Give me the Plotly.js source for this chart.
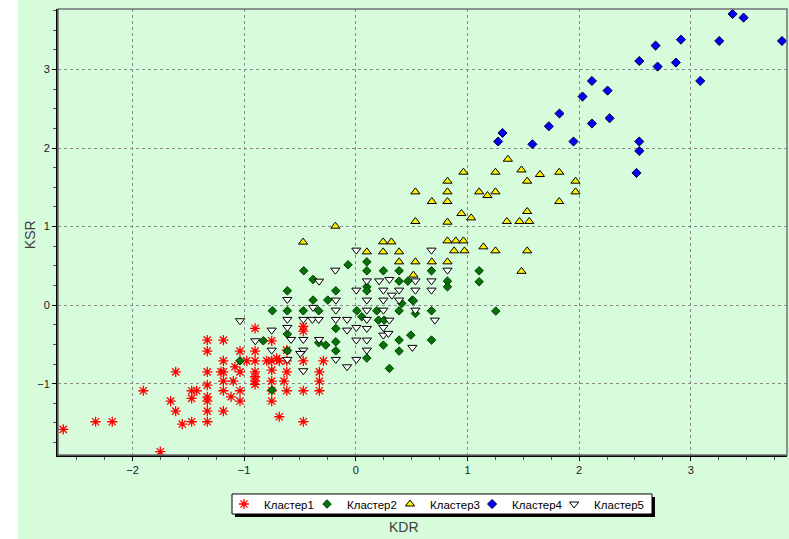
<!DOCTYPE html>
<html>
<head>
<meta charset="utf-8">
<script src="https://cdn.plot.ly/plotly-3.0.1.min.js"></script>
<style>
html,body{margin:0;padding:0;background:#ffffff;}
#chart{position:absolute;left:18px;top:0;width:771px;height:539px;}
</style>
</head>
<body>
<div id="chart"></div>
<script>
// Cluster names (legend)
const clusterNames = ["Кластер1", "Кластер2", "Кластер3", "Кластер4", "Кластер5"];

// Кластер1 (red asterisks)
const c1x = [-2.62,-2.33,-2.181,-1.903,-1.613,-1.751,-1.658,-1.613,-1.554,-1.47,-1.47,-1.47,-1.425,
  -1.33,-1.33,-1.33,-1.33,-1.33,-1.33,-1.33,-1.33,
  -1.186,-1.186,-1.186,-1.186,-1.186,-1.186,-1.207,-1.097,-1.117,-1.037,-1.082,
  -1.037,-1.037,-1.037,-0.977,
  -0.902,-0.902,-0.902,-0.902,-0.902,-0.902,-0.902,
  -0.753,-0.753,-0.753,-0.753,-0.753,-0.753,-0.797,-0.708,-0.685,-0.685,
  -0.618,-0.618,-0.618,-0.618,-0.642,
  -0.47,-0.47,-0.47,-0.47,-0.47,
  -0.326,-0.326,-0.326,-0.29];
const c1y = [-1.582,-1.485,-1.485,-1.09,-0.849,-1.866,-1.221,-1.349,-1.514,-1.485,-1.187,-1.09,-1.09,
  -0.445,-0.585,-0.849,-1.018,-1.167,-1.221,-1.349,-1.485,
  -0.445,-0.709,-0.849,-0.967,-1.09,-1.349,-0.849,-0.967,-1.167,-1.221,-0.785,
  -0.585,-0.849,-1.09,-0.709,
  -0.297,-0.585,-0.709,-0.849,-0.912,-0.967,-1.009,
  -0.454,-0.709,-0.827,-0.967,-1.09,-1.221,-0.709,-0.678,-0.709,-1.421,
  -0.573,-0.709,-0.849,-1.09,-0.967,
  -0.27,-0.33,-0.709,-1.09,-1.485,
  -0.849,-0.967,-1.09,-0.709];

// Кластер2 (green diamonds)
const c2x = [-0.466,-0.383,-0.069,-0.613,-0.383,-0.251,-0.179,-0.747,-0.613,-0.47,-0.332,0.009,0.054,
  -0.179,-0.613,-0.332,-0.269,-0.179,-0.613,-0.179,0.099,
  0.099,0.099,0.247,0.388,0.388,0.466,0.099,0.099,0.412,0.507,0.388,0.678,0.821,0.821,
  0.678,0.534,0.188,0.203,0.254,0.388,0.493,0.678,0.247,0.388,0.301,
  -0.828,-1.037,-0.75,1.105,1.105,0.516,1.254];
const c2y = [0.437,0.327,0.513,0.182,0.064,0.064,0.182,-0.072,-0.072,-0.072,-0.072,-0.072,-0.149,
  -0.297,-0.369,-0.479,-0.509,-0.467,-0.581,-0.581,-0.674,
  0.551,0.437,0.437,0.437,0.305,0.305,0.233,0.182,0.022,0.064,-0.072,0.437,0.305,0.233,
  -0.072,-0.106,-0.072,-0.191,-0.191,-0.445,-0.382,-0.445,-0.509,-0.585,-0.806,
  -0.454,-0.709,-1.081,0.437,0.297,0.055,-0.076];

// Кластер3 (yellow triangles)
const c3x = [1.362,0.964,1.251,1.484,1.649,1.822,0.821,1.535,1.968,0.534,0.821,1.105,1.179,1.251,1.968,
  0.681,0.821,1.822,0.946,1.033,1.535,0.534,0.821,1.353,1.466,1.553,
  0.821,0.896,0.964,0.881,0.973,1.143,1.251,1.535,0.534,0.681,0.821,1.484,
  0.245,0.319,0.099,0.245,0.388,0.388,0.516,-0.183,-0.472];
const c3y = [1.857,1.692,1.692,1.721,1.663,1.692,1.578,1.578,1.578,1.442,1.442,1.442,1.395,1.442,1.442,
  1.319,1.319,1.319,1.166,1.111,1.192,1.065,1.056,1.065,1.065,1.065,
  0.818,0.818,0.818,0.691,0.691,0.742,0.691,0.691,0.551,0.551,0.551,0.43,
  0.805,0.805,0.678,0.678,0.678,0.551,0.382,1.005,0.802];

// Кластер4 (blue diamonds)
const c4x = [3.375,3.473,2.685,2.912,3.255,3.817,2.539,2.703,2.867,3.085,2.115,2.255,2.031,1.824,
  1.729,2.115,2.273,1.314,1.275,1.582,1.95,2.539,2.539,2.514];
const c4y = [3.706,3.66,3.304,3.38,3.363,3.363,3.108,3.037,3.088,2.854,2.854,2.731,2.655,2.439,
  2.277,2.312,2.379,2.192,2.083,2.048,2.083,2.083,1.963,1.683];

// Кластер5 (white inverted triangles)
const c5x = [0.005,-0.183,-0.329,-0.613,-0.383,-0.179,-0.179,0.005,-0.613,-0.613,-0.47,-0.389,-0.332,
  -0.179,-0.078,-0.078,0.005,-0.753,-0.47,-0.329,-0.58,-0.753,-0.47,-0.613,-0.47,-0.179,-0.078,
  0.005,0.005,0.099,0.678,0.821,0.099,0.209,0.301,0.534,0.678,0.247,0.388,0.534,0.678,0.323,
  0.247,0.388,0.099,0.247,0.534,0.708,0.099,0.099,0.301,0.247,0.247,0.292,0.099,0.099,0.507,
  -1.037,-0.9,-0.497];
const c5y = [0.7,0.445,0.305,0.072,-0.029,0.064,-0.064,0.191,-0.182,-0.284,-0.182,-0.182,-0.182,
  -0.182,-0.182,-0.318,-0.284,-0.318,-0.437,-0.437,-0.437,-0.573,-0.573,-0.691,-0.835,-0.691,-0.785,
  -0.691,-0.445,0.064,0.7,0.445,0.309,0.309,0.327,0.309,0.309,0.191,0.191,0.191,0.191,0.127,
  0.064,0.064,-0.064,-0.064,-0.064,-0.191,-0.182,-0.297,-0.191,-0.284,-0.382,-0.36,-0.445,-0.573,-0.538,
  -0.199,-0.454,-0.615];

// Axis setup
const xRange = [-2.667, 3.862];
const yRange = [-1.908, 3.77];
const xTitle = "KDR";
const yTitle = "KSR";

const traces = [
  {x:c1x, y:c1y, name:clusterNames[0], type:'scatter', mode:'markers', legend:'legend',
   marker:{symbol:'asterisk-open', size:8.5, color:'#ff0000', line:{color:'#ff0000', width:1.3}}},
  {x:c2x, y:c2y, name:clusterNames[1], type:'scatter', mode:'markers', legend:'legend2',
   marker:{symbol:'diamond', size:6.5, color:'#067306', line:{color:'#013801', width:1}}},
  {x:c3x, y:c3y, name:clusterNames[2], type:'scatter', mode:'markers', legend:'legend3',
   marker:{symbol:'triangle-up', size:8, color:'#ffee00', line:{color:'#000000', width:1}}},
  {x:c4x, y:c4y, name:clusterNames[3], type:'scatter', mode:'markers', legend:'legend4',
   marker:{symbol:'diamond', size:7, color:'#0000ff', line:{color:'#000033', width:1}}},
  {x:c5x, y:c5y, name:clusterNames[4], type:'scatter', mode:'markers', legend:'legend5',
   marker:{symbol:'triangle-down', size:8, color:'#ffffff', line:{color:'#000000', width:1}}}
];

const bg = '#d6fcdc';
const fontFam = 'Liberation Sans, Arial, sans-serif';
const tickFont = {family:fontFam, size:11, color:'#1a1a1a'};

function legendAt(xp) {
  return {orientation:'h', x:xp, y:-0.1099, xanchor:'left', yanchor:'middle',
    bgcolor:'rgba(0,0,0,0)', borderwidth:0,
    font:{family:fontFam, size:11.5, color:'#000000'}};
}

const layout = {
  width:771, height:539,
  paper_bgcolor:bg, plot_bgcolor:bg,
  margin:{l:40, r:2, t:9, b:84},
  showlegend:true,
  legend:legendAt(0.2277),
  legend2:legendAt(0.3416),
  legend3:legendAt(0.4555),
  legend4:legendAt(0.5680),
  legend5:legendAt(0.6805),
  xaxis:{range:xRange, dtick:1, tick0:0, showgrid:true, gridcolor:'#8a8a8a', griddash:'3px,3px', gridwidth:1,
    zeroline:false, showline:true, linecolor:'#000000', linewidth:2, ticks:'outside', ticklen:4, tickcolor:'#000000',
    minor:{dtick:0.25, ticklen:3, tickcolor:'#555555', showgrid:false, ticks:'outside'},
    tickfont:tickFont, fixedrange:true},
  yaxis:{range:yRange, dtick:1, tick0:0, showgrid:true, gridcolor:'#8a8a8a', griddash:'3px,3px', gridwidth:1,
    zeroline:false, showline:true, linecolor:'#000000', linewidth:2, ticks:'outside', ticklen:4, tickcolor:'#000000',
    minor:{dtick:0.25, ticklen:3, tickcolor:'#555555', showgrid:false, ticks:'outside'},
    tickfont:tickFont, fixedrange:true},
  shapes:[
    {type:'rect', xref:'x domain', yref:'y domain', x0:0, x1:1, y0:0, y1:1,
     line:{color:'#707070', width:1.5}, fillcolor:'rgba(0,0,0,0)', layer:'above'},
    // legend shadow and box
    {type:'rect', xref:'paper', yref:'paper', x0:0.2428, x1:0.8189, y0:-0.1390, y1:-0.0942,
     line:{width:0}, fillcolor:'#000000', layer:'above'},
    {type:'rect', xref:'paper', yref:'paper', x0:0.2387, x1:0.8148, y0:-0.1323, y1:-0.0874,
     line:{color:'#000000', width:1}, fillcolor:'#ffffff', layer:'above'}
  ],
  annotations:[
    {text:xTitle, xref:'paper', yref:'paper', x:0.474, y:-0.161, xanchor:'center', yanchor:'middle', showarrow:false,
     font:{family:fontFam, size:14, color:'#404040'}},
    {text:yTitle, xref:'paper', yref:'paper', x:-0.0384, y:0.493, xanchor:'center', yanchor:'middle', showarrow:false, textangle:-90,
     font:{family:fontFam, size:14, color:'#404040'}}
  ]
};

Plotly.newPlot('chart', traces, layout, {displayModeBar:false, staticPlot:true});
</script>
</body>
</html>
